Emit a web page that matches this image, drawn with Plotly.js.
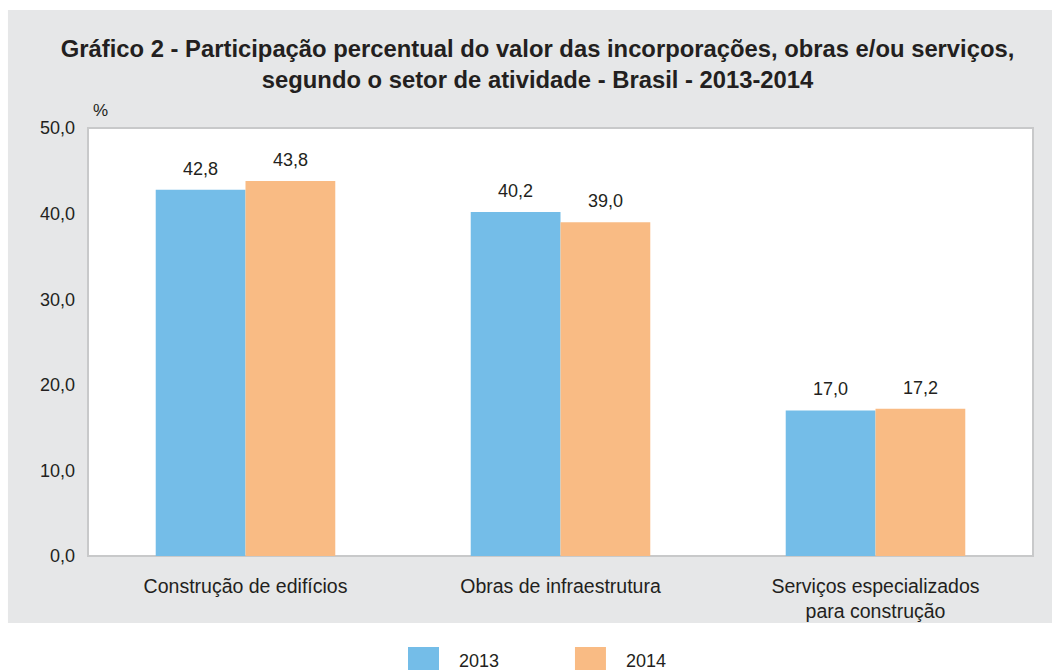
<!DOCTYPE html>
<html>
<head>
<meta charset="utf-8">
<script src="https://cdn.plot.ly/plotly-3.0.1.min.js"></script>
<style>html,body{margin:0;padding:0;background:#fff;}#chart{width:1052px;height:670px;}</style>
</head>
<body>
<div id="chart"></div>
<script>
const categories = ["Construção de edifícios", "Obras de infraestrutura", "Serviços especializados<br>para construção"];
const seriesNames = ["2013", "2014"];
const values2013 = [42.8, 40.2, 17.0];
const values2014 = [43.8, 39.0, 17.2];
const yTicks = [0, 10, 20, 30, 40, 50];

const colors = ["#74bde8", "#f9bb84"];
const FONT = "Liberation Sans, Arial, sans-serif";
const TXT = "#231f20";

const allValues = [values2013, values2014];
const traces = allValues.map((vals, i) => ({
  type: "bar",
  x: categories,
  y: vals,
  name: seriesNames[i],
  marker: {color: colors[i], line: {width: 0}},
  hoverinfo: "skip",
  showlegend: false
}));

const fmt = v => v.toFixed(1).replace(".", ",");
const annotations = [];
allValues.forEach((vals, i) => {
  vals.forEach((v, j) => {
    annotations.push({
      x: categories[j], y: v, xref: "x", yref: "y",
      xshift: i === 0 ? -45 : 45, yshift: 9,
      yanchor: "bottom", xanchor: "center",
      text: fmt(v), showarrow: false,
      font: {family: FONT, size: 18, color: TXT}
    });
  });
});
annotations.push({
  x: 0.0127, y: 1.042, xref: "paper", yref: "paper",
  text: "%", showarrow: false, xanchor: "center", yanchor: "middle",
  font: {family: FONT, size: 17, color: TXT}
});
// legend labels
const legX = [0.3386, 0.5153];
seriesNames.forEach((n, i) => {
  annotations.push({
    x: legX[i] + 0.0519, y: -0.2453, xref: "paper", yref: "paper",
    text: n, showarrow: false, xanchor: "left", yanchor: "middle",
    font: {family: FONT, size: 18, color: TXT}
  });
});

const shapes = [
  {type: "rect", xref: "paper", yref: "paper", x0: -0.0847, x1: 1.05, y0: -0.1565, y1: 1.2757,
   fillcolor: "#e6e7e8", line: {width: 0}, layer: "below"},
  {type: "rect", xref: "paper", yref: "paper", x0: 0, x1: 1, y0: 0, y1: 1,
   fillcolor: "#ffffff", line: {color: "#c8c9ca", width: 2}, layer: "below"}
];
seriesNames.forEach((n, i) => {
  shapes.push({type: "rect", xref: "paper", yref: "paper",
    x0: legX[i], x1: legX[i] + 0.0328, y0: -0.2664, y1: -0.2126,
    fillcolor: colors[i], line: {width: 0}, layer: "above"});
});

const layout = {
  width: 1052, height: 670,
  margin: {l: 88, r: 19, t: 128, b: 114},
  paper_bgcolor: "#ffffff",
  plot_bgcolor: "rgba(0,0,0,0)",
  separators: ",.",
  barmode: "group",
  bargap: 0.43,
  bargroupgap: 0,
  showlegend: false,
  title: {
    text: "<b>Gráfico 2 - Participação percentual do valor das incorporações, obras e/ou serviços,<br>segundo o setor de atividade - Brasil - 2013-2014</b>",
    font: {family: FONT, size: 23.8, color: TXT},
    x: 0.511, xanchor: "center", y: 0.915, yanchor: "middle", xref: "container", yref: "container"
  },
  font: {family: FONT, size: 18, color: TXT},
  xaxis: {
    showgrid: false, zeroline: false, showline: false, ticks: "",
    tickfont: {family: FONT, size: 19.5, color: TXT},
    ticklabelstandoff: 16
  },
  yaxis: {
    range: [0, 50], tickvals: yTicks, tickformat: ".1f",
    showgrid: false, zeroline: false, showline: false, ticks: "",
    tickfont: {family: FONT, size: 18, color: TXT},
    ticklabelstandoff: 12
  },
  annotations: annotations,
  shapes: shapes
};

Plotly.newPlot("chart", traces, layout, {displayModeBar: false, staticPlot: true});
</script>
</body>
</html>
